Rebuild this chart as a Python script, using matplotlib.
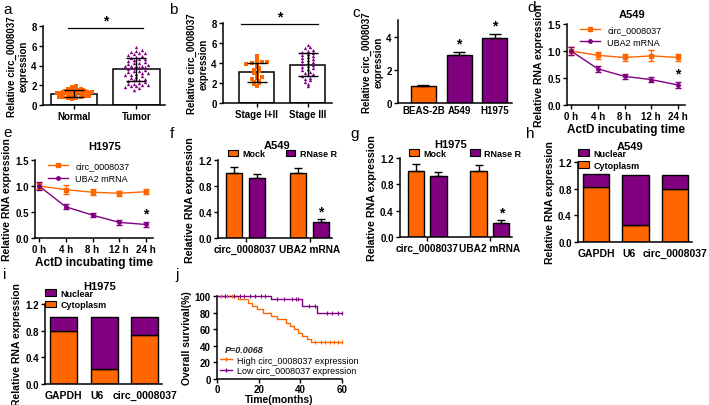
import numpy as np
import matplotlib
matplotlib.use('Agg')
import matplotlib.pyplot as plt
from matplotlib.lines import Line2D
from matplotlib.patches import Patch

plt.rcParams['font.family'] = ['Liberation Sans', 'DejaVu Sans']
plt.rcParams['font.weight'] = 'bold'
plt.rcParams['axes.labelweight'] = 'bold'

ORANGE = '#ff6600'
PURPLE = '#800080'
W, H = 709, 406

# ---- data ----
# a: normal vs tumor
normal_vals = [0.62, 0.70, 0.75, 0.78, 0.80, 0.82, 0.85, 0.86, 0.88, 0.90, 0.90, 0.92, 0.94, 0.95,
               0.96, 0.98, 1.00, 1.00, 1.02, 1.03, 1.05, 1.06, 1.08, 1.10, 1.10, 1.12, 1.13, 1.15,
               1.16, 1.18, 1.20, 1.20, 1.22, 1.24, 1.25, 1.27, 1.28, 1.30, 1.30, 1.32, 1.34, 1.35,
               1.38, 1.40, 1.42, 1.45, 1.48, 1.50, 1.52, 1.55, 1.58, 1.60, 1.62, 1.65, 1.70, 1.75,
               1.80, 1.90]
tumor_vals = [1.55, 1.70, 1.80, 1.90, 1.95, 2.00, 2.00, 2.10, 2.15, 2.20, 2.30, 2.40, 2.50, 2.55,
              2.60, 2.70, 2.80, 2.90, 3.00, 3.00, 3.10, 3.20, 3.25, 3.30, 3.40, 3.40, 3.50, 3.60,
              3.70, 3.80, 3.80, 3.90, 3.95, 4.00, 4.00, 4.10, 4.20, 4.25, 4.30, 4.40, 4.50, 4.60,
              4.65, 4.70, 4.80, 4.90, 5.00, 5.10, 5.20, 5.25, 5.30, 5.40, 5.50, 5.60, 5.90]
a_labels = ['Normal', 'Tumor']
a_mean = [1.15, 3.6]
a_sd = [0.35, 1.2]

# b: stage
stage12_vals = [1.7, 1.9, 2.0, 2.1, 2.2, 2.4, 2.5, 2.6, 2.8, 3.0, 3.2, 3.3, 3.5, 3.6, 3.9,
                4.0, 4.0, 4.1, 4.1, 4.4, 4.7]
stage3_vals = [1.7, 1.9, 2.1, 2.3, 2.4, 2.5, 2.7, 2.8, 2.9, 3.0, 3.1, 3.3, 3.4, 3.5, 3.6, 3.7,
               3.8, 3.9, 4.0, 4.1, 4.2, 4.3, 4.4, 4.5, 4.6, 4.7, 4.8, 4.9, 5.0, 5.1, 5.2, 5.3,
               5.5, 5.6, 5.8]
b_labels = ['Stage I+II', 'Stage III']
b_mean = [3.1, 3.85]
b_sd = [0.95, 1.15]

# c: cell lines
c_labels = ['BEAS-2B', 'A549', 'H1975']
c_vals = [1.0, 2.88, 3.92]
c_err = [0.1, 0.22, 0.25]

# d, e: ActD time course
time_labels = ['0 h', '4 h', '8 h', '12 h', '24 h']
d_circ = [1.0, 0.92, 0.88, 0.91, 0.88]
d_circ_err = [0.08, 0.06, 0.06, 0.10, 0.06]
d_uba2 = [1.0, 0.67, 0.53, 0.47, 0.37]
d_uba2_err = [0.08, 0.05, 0.04, 0.05, 0.05]
e_circ = [1.0, 0.93, 0.88, 0.86, 0.89]
e_circ_err = [0.06, 0.08, 0.06, 0.05, 0.05]
e_uba2 = [1.0, 0.60, 0.44, 0.30, 0.26]
e_uba2_err = [0.08, 0.05, 0.04, 0.05, 0.04]

# f, g: RNase R
rnase_labels = ['circ_0008037', 'UBA2 mRNA']
f_mock = [1.0, 1.0]
f_mock_err = [0.09, 0.07]
f_rnase = [0.92, 0.25]
f_rnase_err = [0.06, 0.04]
g_mock = [1.0, 1.0]
g_mock_err = [0.11, 0.1]
g_rnase = [0.93, 0.21]
g_rnase_err = [0.06, 0.05]

# h, i: localisation
loc_labels = ['GAPDH', 'U6', 'circ_0008037']
h_total = [1.02, 1.0, 1.0]
h_cyto = [0.82, 0.26, 0.79]
i_total = [1.0, 1.0, 1.0]
i_cyto = [0.79, 0.22, 0.73]

# j: survival (step points, months / %)
high_t = [0, 10, 15, 17, 19, 22, 26, 29, 33, 35, 37, 39, 41, 43, 45, 60]
high_s = [100, 96, 92, 88, 84, 80, 76, 72, 68, 64, 60, 56, 52, 48, 44, 44]
high_cens_t = [2, 5, 7, 47, 50, 52, 54, 56, 58, 60]
low_t = [0, 26, 41, 48, 60]
low_s = [100, 96, 88, 80, 80]
low_cens_t = [4, 8, 11, 13, 16, 18, 21, 23, 29, 32, 36, 38, 39, 44, 47, 53, 55, 58, 60]


def px_axes(fig, x0, y0, x1, y1):
    return fig.add_axes([x0 / W, 1 - y1 / H, (x1 - x0) / W, (y1 - y0) / H])


def style(ax):
    for s in ['top', 'right']:
        ax.spines[s].set_visible(False)
    for s in ['left', 'bottom']:
        ax.spines[s].set_linewidth(1.1)
    ax.tick_params(labelsize=7, width=1.0, length=3, pad=1.5)


def swarm(vals, center, bin_h, step, maxw):
    vals = np.asarray(vals, dtype=float)
    xs = np.zeros(len(vals))
    bins = np.floor(vals / bin_h).astype(int)
    for b in np.unique(bins):
        idx = np.where(bins == b)[0]
        k = len(idx)
        offs = (np.arange(k) - (k - 1) / 2) * step
        xs[idx] = center + np.clip(offs, -maxw, maxw)
    return xs


def step_at(ts, ss, t):
    return ss[np.searchsorted(ts, t, side='right') - 1]


fig = plt.figure(figsize=(W / 100, H / 100), dpi=100)

# ---- a ----
ax = px_axes(fig, 43, 27, 165, 106)
style(ax)
ax.bar([0, 1], a_mean, width=0.75, color='white', edgecolor='black', linewidth=1.1, zorder=1)
ax.plot(swarm(normal_vals, 0, 0.12, 0.07, 0.38), normal_vals, 's', color=ORANGE, ms=2.2, mew=0, zorder=2)
ax.plot(swarm(tumor_vals, 1, 0.3, 0.09, 0.3), tumor_vals, '^', color=PURPLE, ms=2.4, mew=0, zorder=2)
ax.errorbar([0, 1], a_mean, yerr=a_sd, fmt='none', ecolor='black', elinewidth=1.0, capsize=7, capthick=1.0, zorder=3)
ax.set_xlim(-0.5, 1.46)
ax.set_ylim(0, 8)
ax.set_yticks([0, 2, 4, 6, 8])
ax.set_xticks([0, 1])
ax.set_xticklabels(a_labels)
ax.plot([-0.1, 1.1], [7.8, 7.8], color='black', lw=0.9, clip_on=False)
ax.text(0.5, 7.9, '*', ha='center', va='bottom', fontsize=10, clip_on=False)
ax.set_ylabel('Relative circ_0008037\nexpression', fontsize=7, labelpad=2)

# ---- b ----
ax = px_axes(fig, 223, 24, 332, 104)
style(ax)
ax.bar([0, 1], b_mean, width=0.7, color='white', edgecolor='black', linewidth=1.1, zorder=1)
ax.plot(swarm(stage12_vals, 0, 0.3, 0.1, 0.28), stage12_vals, 's', color=ORANGE, ms=2.4, mew=0, zorder=2)
ax.plot(swarm(stage3_vals, 1, 0.3, 0.1, 0.28), stage3_vals, '^', color=PURPLE, ms=2.4, mew=0, zorder=2)
ax.errorbar([0, 1], b_mean, yerr=b_sd, fmt='none', ecolor='black', elinewidth=1.0, capsize=7, capthick=1.0, zorder=3)
ax.set_xlim(-0.66, 1.48)
ax.set_ylim(0, 8)
ax.set_yticks([0, 2, 4, 6, 8])
ax.set_xticks([0, 1])
ax.set_xticklabels(b_labels)
ax.plot([-0.3, 1.2], [7.9, 7.9], color='black', lw=0.9, clip_on=False)
ax.text(0.45, 8.0, '*', ha='center', va='bottom', fontsize=10, clip_on=False)
ax.set_ylabel('Relative circ_0008037\nexpression', fontsize=7, labelpad=2)

# ---- c ----
ax = px_axes(fig, 398, 21, 512, 104)
style(ax)
xc = np.arange(len(c_vals))
ax.bar(xc, c_vals, width=0.7, color=[ORANGE, PURPLE, PURPLE], edgecolor='black', linewidth=1.0)
ax.errorbar(xc, c_vals, yerr=[np.zeros(3), c_err], fmt='none', ecolor='black', elinewidth=1.0, capsize=4, capthick=1.0)
for k in [1, 2]:
    ax.text(xc[k], c_vals[k] + c_err[k] + 0.05, '*', ha='center', va='bottom', fontsize=10)
ax.set_xlim(-0.71, 2.48)
ax.set_ylim(0, 5)
ax.set_xticks(xc)
ax.set_xticklabels(c_labels)
ax.tick_params(axis='x', length=0)
ax.set_ylabel('Relative circ_0008037\nexpression', fontsize=7, labelpad=2)


# ---- d, e ----
def timecourse(ax, circ, circ_err, uba2, uba2_err, title, tx, ty, ly):
    style(ax)
    xt = np.arange(len(time_labels))
    ax.errorbar(xt, circ, yerr=circ_err, color=ORANGE, marker='s', ms=3, lw=1.0, capsize=2, elinewidth=0.9, clip_on=False)
    ax.errorbar(xt, uba2, yerr=uba2_err, color=PURPLE, marker='o', ms=2.5, lw=1.0, capsize=2, elinewidth=0.9, clip_on=False)
    ax.text(xt[-1], uba2[-1] + uba2_err[-1] + 0.03, '*', ha='center', va='bottom', fontsize=10)
    ax.set_xlim(-0.15, 4.26)
    ax.set_ylim(0, 1.5)
    ax.set_yticks([0, 0.5, 1.0, 1.5])
    ax.set_xticks(xt)
    ax.set_xticklabels(time_labels)
    ax.set_xlabel('ActD incubating time', fontsize=8.5, labelpad=1)
    ax.set_ylabel('Relative RNA expression', fontsize=7.5, labelpad=2)
    ax.text(tx, ty, title, transform=ax.transAxes, ha='center', va='center', fontsize=8)
    handles = [Line2D([], [], color=ORANGE, marker='s', ms=3, lw=1.0),
               Line2D([], [], color=PURPLE, marker='o', ms=2.5, lw=1.0)]
    ax.legend(handles, ['circ_0008037', 'UBA2 mRNA'], loc='upper left', bbox_to_anchor=(0.06, ly),
              frameon=False, handlelength=2.2, labelspacing=0.35, borderpad=0.2,
              prop={'weight': 'normal', 'size': 6.5})


ax = px_axes(fig, 567, 25, 685, 106)
timecourse(ax, d_circ, d_circ_err, d_uba2, d_uba2_err, 'A549', 0.55, 1.12, 1.06)
ax = px_axes(fig, 35, 161, 153, 239)
timecourse(ax, e_circ, e_circ_err, e_uba2, e_uba2_err, 'H1975', 0.59, 1.18, 1.06)


# ---- f, g ----
def rnase(ax, mock, mock_err, rn, rn_err, title, tx, ty, ly, lx, cs):
    style(ax)
    xg = np.arange(len(rnase_labels))
    off, bw = 0.18, 0.26
    ax.bar(xg - off, mock, width=bw, color=ORANGE, edgecolor='black', linewidth=1.0)
    ax.bar(xg + off, rn, width=bw, color=PURPLE, edgecolor='black', linewidth=1.0)
    ax.errorbar(xg - off, mock, yerr=[np.zeros(2), mock_err], fmt='none', ecolor='black', elinewidth=1.0, capsize=3)
    ax.errorbar(xg + off, rn, yerr=[np.zeros(2), rn_err], fmt='none', ecolor='black', elinewidth=1.0, capsize=3)
    ax.text(xg[1] + off, rn[1] + rn_err[1] + 0.01, '*', ha='center', va='bottom', fontsize=10)
    ax.set_xlim(-0.43, 1.35)
    ax.set_ylim(0, 1.2)
    ax.set_yticks([0, 0.4, 0.8, 1.2])
    ax.set_xticks(xg)
    ax.set_xticklabels(rnase_labels, fontsize=7.3)
    ax.set_ylabel('Relative RNA expression', fontsize=7.7, labelpad=2)
    ax.text(tx, ty, title, transform=ax.transAxes, ha='center', va='center', fontsize=8)
    handles = [Patch(facecolor=ORANGE, edgecolor='black', lw=0.8),
               Patch(facecolor=PURPLE, edgecolor='black', lw=0.8)]
    ax.legend(handles, ['Mock', 'RNase R'], loc='center left', bbox_to_anchor=(lx, ly), ncol=2,
              frameon=False, handlelength=1.1, handleheight=0.7, columnspacing=cs, borderpad=0,
              handletextpad=0.5, prop={'weight': 'bold', 'size': 6.5})


ax = px_axes(fig, 218, 161, 332, 239)
rnase(ax, f_mock, f_mock_err, f_rnase, f_rnase_err, 'A549', 0.52, 1.19, 1.08, 0.05, 2.2)
ax = px_axes(fig, 400, 159, 512, 238)
rnase(ax, g_mock, g_mock_err, g_rnase, g_rnase_err, 'H1975', 0.45, 1.18, 1.06, 0.04, 2.6)


# ---- h, i ----
def localisation(ax, total, cyto, title, tx, ty, ly):
    style(ax)
    xl = np.arange(len(loc_labels))
    nuc = np.array(total) - np.array(cyto)
    ax.bar(xl, cyto, width=0.67, color=ORANGE, edgecolor='black', linewidth=1.0)
    ax.bar(xl, nuc, bottom=cyto, width=0.67, color=PURPLE, edgecolor='black', linewidth=1.0)
    ax.set_xlim(-0.46, 2.43)
    ax.set_ylim(0, 1.2)
    ax.set_yticks([0, 0.4, 0.8, 1.2])
    ax.set_xticks(xl)
    ax.set_xticklabels(loc_labels, fontsize=7.5)
    lbls = ax.get_xticklabels()
    lbls[1].set_ha('right')
    lbls[2].set_ha('center')
    ax.tick_params(axis='x', length=0, pad=4)
    ax.set_ylabel('Relative RNA expression', fontsize=7.5, labelpad=2)
    ax.text(tx, ty, title, transform=ax.transAxes, ha='center', va='center', fontsize=8)
    handles = [Patch(facecolor=PURPLE, edgecolor='black', lw=0.8),
               Patch(facecolor=ORANGE, edgecolor='black', lw=0.8)]
    ax.legend(handles, ['Nuclear', 'Cytoplasm'], loc='upper left', bbox_to_anchor=(-0.04, ly),
              frameon=False, handlelength=1.2, handleheight=0.75, borderpad=0, labelspacing=0.3,
              handletextpad=0.5, prop={'weight': 'bold', 'size': 6.5})


ax = px_axes(fig, 578, 163, 692, 243)
localisation(ax, h_total, h_cyto, 'A549', 0.46, 1.2, 1.22)
ax = px_axes(fig, 45, 305, 162, 385)
localisation(ax, i_total, i_cyto, 'H1975', 0.47, 1.23, 1.25)

# ---- j ----
ax = px_axes(fig, 217, 297, 342, 380)
style(ax)
ax.step(high_t, high_s, where='post', color=ORANGE, lw=1.0, clip_on=False)
ax.step(low_t, low_s, where='post', color=PURPLE, lw=1.0, clip_on=False)
ax.plot(high_cens_t, [step_at(high_t, high_s, t) for t in high_cens_t],
        '|', color=ORANGE, ms=3, mew=0.8, clip_on=False)
ax.plot(low_cens_t, [step_at(low_t, low_s, t) for t in low_cens_t],
        '|', color=PURPLE, ms=3, mew=0.8, clip_on=False)
ax.set_xlim(0, 60)
ax.set_ylim(0, 100)
ax.set_xticks([0, 20, 40, 60])
ax.set_yticks([0, 20, 40, 60, 80, 100])
ax.tick_params(axis='x', pad=0.5)
ax.set_xlabel('Time(months)', fontsize=7.5, labelpad=0)
ax.set_ylabel('Overall survival(%)', fontsize=7.5, labelpad=2)
ax.text(4, 36, 'P=0.0068', fontsize=6.5, style='italic', color='#222222', va='center')
handles = [Line2D([], [], color=ORANGE, marker='|', ms=3, lw=1.0),
           Line2D([], [], color=PURPLE, marker='|', ms=3, lw=1.0)]
ax.legend(handles, ['High circ_0008037 expression', 'Low circ_0008037 expression'],
          loc='center left', bbox_to_anchor=(-0.01, 0.165), frameon=False, handlelength=1.3,
          labelspacing=0.15, borderpad=0, handletextpad=0.6, prop={'weight': 'normal', 'size': 6.5})

# ---- panel letters ----
letters = [('a', 3, 14), ('b', 169, 14), ('c', 352, 17), ('d', 527, 12),
           ('e', 3, 137), ('f', 170, 138), ('g', 350, 138), ('h', 526, 138),
           ('i', 3, 279), ('j', 175, 279)]
for s, x, y in letters:
    fig.text(x / W, 1 - y / H, s, fontsize=11, fontweight='normal', va='baseline')

fig.savefig('out.png', dpi=100)
